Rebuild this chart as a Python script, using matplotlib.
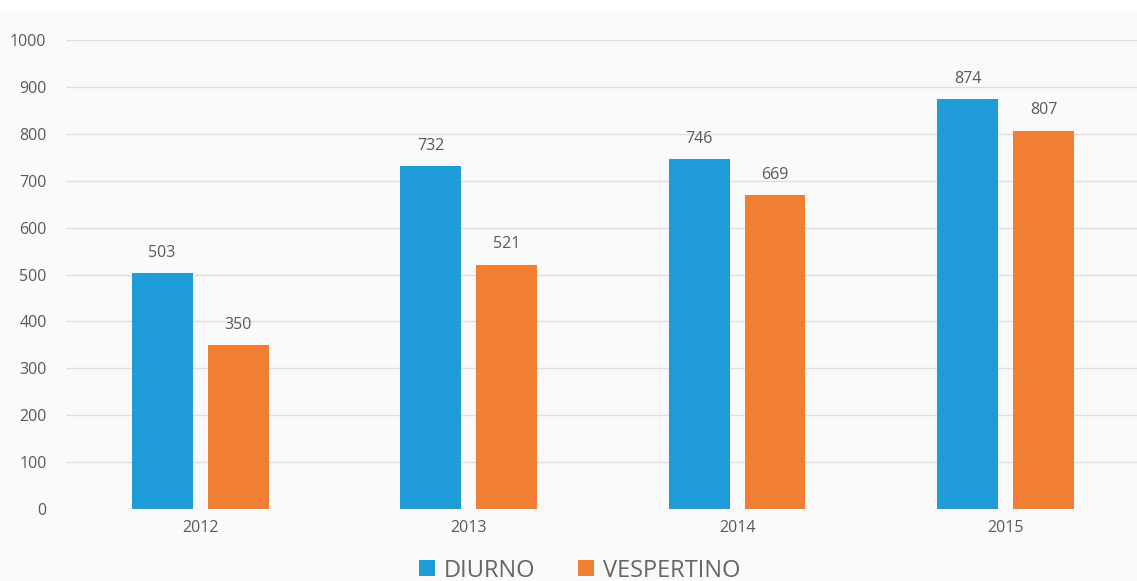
import numpy as np
import matplotlib.pyplot as plt
from matplotlib.patches import Rectangle, Patch

years = ['2012', '2013', '2014', '2015']
diurno = [503, 732, 746, 874]
vespertino = [350, 521, 669, 807]
series_names = ['DIURNO', 'VESPERTINO']
colores = ['#1F9BD7', '#F07F34']
yticks = [0, 100, 200, 300, 400, 500, 600, 700, 800, 900, 1000]

plt.rcParams['font.family'] = ['Open Sans', 'DejaVu Sans']

fig = plt.figure(figsize=(11.37, 5.81), dpi=100, facecolor='#FAFAFA')
# franja blanca arriba (titulo recortado)
fig.patches.append(Rectangle((0, 1 - 12 / 581), 1, 12 / 581, transform=fig.transFigure,
                             facecolor='white', edgecolor='none', zorder=0))
ax = fig.add_axes([0.058, 0.124, 0.942, 0.807])
ax.set_facecolor('#FAFAFA')

x = np.arange(len(years))
ancho = 0.227
sep = 0.056
desp = (ancho + sep) / 2

b1 = ax.bar(x - desp, diurno, ancho, color=colores[0], zorder=3)
b2 = ax.bar(x + desp, vespertino, ancho, color=colores[1], zorder=3)

for barras in (b1, b2):
    for b in barras:
        ax.text(b.get_x() + b.get_width() / 2, b.get_height() + 26, str(int(b.get_height())),
                ha='center', va='bottom', fontsize=11.5, color='#595959')

ax.set_xlim(-0.5, 3.49)
ax.set_ylim(0, 1000)
ax.set_yticks(yticks)
ax.set_xticks(x)
ax.set_xticklabels(years)
ax.yaxis.grid(True, color='#E2DCDA', linewidth=1, zorder=0)
for s in ax.spines.values():
    s.set_visible(False)
ax.tick_params(axis='both', length=0, colors='#595959', labelsize=11.5)
ax.tick_params(axis='y', pad=14)
ax.tick_params(axis='x', pad=8)

handles = [Patch(facecolor=c) for c in colores]
fig.legend(handles, series_names, loc='center', bbox_to_anchor=(0.51, 0.018), ncol=2,
           frameon=False, fontsize=17, labelcolor='#666666', handlelength=0.65,
           handleheight=0.65, handletextpad=0.4, columnspacing=1.8)

fig.savefig('out.png', dpi=100, facecolor=fig.get_facecolor())
